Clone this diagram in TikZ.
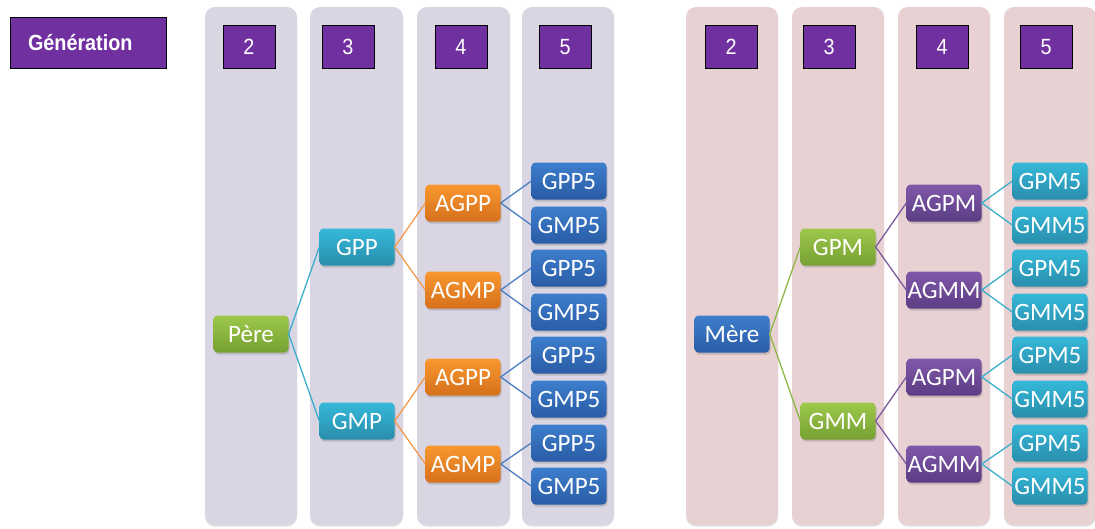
\documentclass[tikz,border=0pt]{standalone}
\usepackage{fontspec}
\usetikzlibrary{shadows}
\newfontfamily\nodefont{Carlito}
\newfontfamily\numfont[FakeStretch=0.9]{Liberation Sans}

\definecolor{colgauche}{HTML}{D9D5E3}
\definecolor{coldroite}{HTML}{E8D1D2}
\definecolor{pourpre}{HTML}{7030A0}
\definecolor{lvert}{HTML}{8DB848}
\definecolor{lcyan}{HTML}{3AAFCB}
\definecolor{lorange}{HTML}{F39A4C}
\definecolor{lbleu}{HTML}{4A7EC0}
\definecolor{lviolet}{HTML}{7D5AA0}

\tikzset{
	colonne/.style={rounded corners=10pt, drop shadow={opacity=0.25, shadow xshift=0pt, shadow yshift=-1.5pt}},
	gen/.style={draw=black, fill=pourpre, text=white, line width=0.8pt, minimum width=52pt, minimum height=43pt, inner sep=0pt, font=\numfont\fontsize{22}{24}\selectfont},
	box/.style={rounded corners=4pt, minimum width=75pt, minimum height=37pt, inner sep=0pt, text=white,
		font=\nodefont\fontsize{25}{28}\selectfont, drop shadow={opacity=0.35, shadow xshift=1pt, shadow yshift=-2pt}},
	gvert/.style={box, top color=HTML9DC84B, bottom color=HTML76A032},
	gcyan/.style={box, top color=HTML35B8D9, bottom color=HTML2A8EAC},
	gorange/.style={box, top color=HTMLF8972F, bottom color=HTMLD6701C},
	gbleu/.style={box, top color=HTML3D7ECD, bottom color=HTML2A5CA5},
	gviolet/.style={box, top color=HTML8058AA, bottom color=HTML5C3D84},
	lien/.style={line width=1.3pt}
}
\definecolor{HTML9DC84B}{HTML}{9DC84B}
\definecolor{HTML76A032}{HTML}{76A032}
\definecolor{HTML35B8D9}{HTML}{35B8D9}
\definecolor{HTML2A8EAC}{HTML}{2A8EAC}
\definecolor{HTMLF8972F}{HTML}{F8972F}
\definecolor{HTMLD6701C}{HTML}{D6701C}
\definecolor{HTML3D7ECD}{HTML}{3D7ECD}
\definecolor{HTML2A5CA5}{HTML}{2A5CA5}
\definecolor{HTML8058AA}{HTML}{8058AA}
\definecolor{HTML5C3D84}{HTML}{5C3D84}

\begin{document}
\begin{tikzpicture}[x=1pt, y=-1pt]
			\useasboundingbox (0,0) rectangle (1095,528);
			% colonnes
			\fill[colgauche, colonne] (205,7) rectangle (297,525);
			\fill[colgauche, colonne] (310,7) rectangle (403,525);
			\fill[colgauche, colonne] (417,7) rectangle (510,525);
			\fill[colgauche, colonne] (522,7) rectangle (614,525);
			\fill[coldroite, colonne] (686,7) rectangle (778,525);
			\fill[coldroite, colonne] (792,7) rectangle (884,525);
			\fill[coldroite, colonne] (898,7) rectangle (990,525);
			\fill[coldroite, colonne] (1004,7) rectangle (1096,525);
			% generations
			\node[gen, minimum width=156pt, minimum height=51pt, text width=120pt, inner xsep=18pt, align=left,
				font=\numfont\bfseries\fontsize{22}{24}\selectfont] (titre) at (88,42.5) {Génération};
			\node[gen] (g2) at (249,47) {2};
			\node[gen] (g3) at (348,47) {3};
			\node[gen] (g4) at (461,47) {4};
			\node[gen] (g5) at (565,47) {5};
			\node[gen] (h2) at (731,47) {2};
			\node[gen] (h3) at (829,47) {3};
			\node[gen] (h4) at (942,47) {4};
			\node[gen] (h5) at (1046,47) {5};
			% cote pere
			\node[gvert] (pere) at (251,334) {Père};
			\node[gcyan] (gpp) at (357,247) {GPP};
			\node[gcyan] (gmp) at (357,421) {GMP};
			\node[gorange] (agpp1) at (463,203) {AGPP};
			\node[gorange] (agmp1) at (463,290) {AGMP};
			\node[gorange] (agpp2) at (463,377) {AGPP};
			\node[gorange] (agmp2) at (463,464) {AGMP};
			\node[gbleu] (p1) at (569,181) {GPP5};
			\node[gbleu] (p2) at (569,225) {GMP5};
			\node[gbleu] (p3) at (569,268) {GPP5};
			\node[gbleu] (p4) at (569,312) {GMP5};
			\node[gbleu] (p5) at (569,355) {GPP5};
			\node[gbleu] (p6) at (569,399) {GMP5};
			\node[gbleu] (p7) at (569,443) {GPP5};
			\node[gbleu] (p8) at (569,486) {GMP5};
			% cote mere
			\node[gbleu] (mere) at (732,334) {Mère};
			\node[gvert] (gpm) at (838,247) {GPM};
			\node[gvert] (gmm) at (838,421) {GMM};
			\node[gviolet] (agpm1) at (944,203) {AGPM};
			\node[gviolet] (agmm1) at (944,290) {AGMM};
			\node[gviolet] (agpm2) at (944,377) {AGPM};
			\node[gviolet] (agmm2) at (944,464) {AGMM};
			\node[gcyan] (m1) at (1050,181) {GPM5};
			\node[gcyan] (m2) at (1050,225) {GMM5};
			\node[gcyan] (m3) at (1050,268) {GPM5};
			\node[gcyan] (m4) at (1050,312) {GMM5};
			\node[gcyan] (m5) at (1050,355) {GPM5};
			\node[gcyan] (m6) at (1050,399) {GMM5};
			\node[gcyan] (m7) at (1050,443) {GPM5};
			\node[gcyan] (m8) at (1050,486) {GMM5};
			% liens
			\draw[lien, lcyan] (gpp.west) -- (pere.east) -- (gmp.west);
			\draw[lien, lorange] (agpp1.west) -- (gpp.east) -- (agmp1.west);
			\draw[lien, lorange] (agpp2.west) -- (gmp.east) -- (agmp2.west);
			\draw[lien, lbleu] (p1.west) -- (agpp1.east) -- (p2.west);
			\draw[lien, lbleu] (p3.west) -- (agmp1.east) -- (p4.west);
			\draw[lien, lbleu] (p5.west) -- (agpp2.east) -- (p6.west);
			\draw[lien, lbleu] (p7.west) -- (agmp2.east) -- (p8.west);
			\draw[lien, lvert] (gpm.west) -- (mere.east) -- (gmm.west);
			\draw[lien, lviolet] (agpm1.west) -- (gpm.east) -- (agmm1.west);
			\draw[lien, lviolet] (agpm2.west) -- (gmm.east) -- (agmm2.west);
			\draw[lien, lcyan] (m1.west) -- (agpm1.east) -- (m2.west);
			\draw[lien, lcyan] (m3.west) -- (agmm1.east) -- (m4.west);
			\draw[lien, lcyan] (m5.west) -- (agpm2.east) -- (m6.west);
			\draw[lien, lcyan] (m7.west) -- (agmm2.east) -- (m8.west);
			\end{tikzpicture}
\end{document}
